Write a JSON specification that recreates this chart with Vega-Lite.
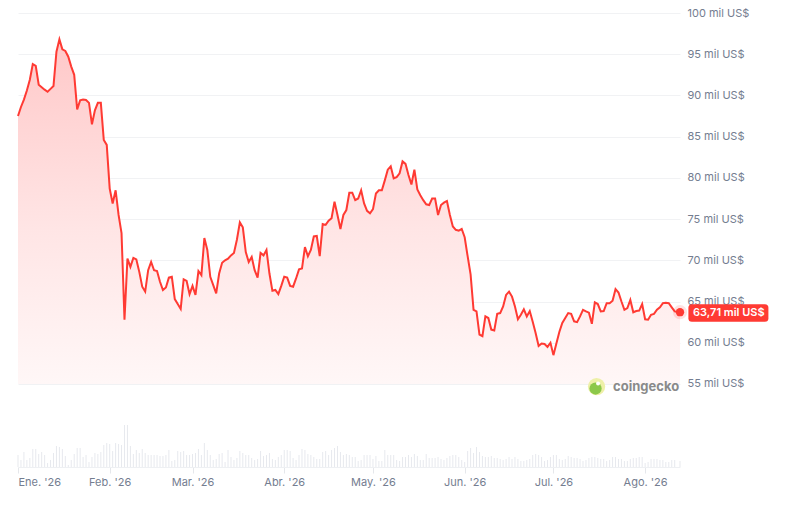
{
  "$schema": "https://vega.github.io/schema/vega-lite/v6.json",
  "width": 662,
  "height": 454,
  "autosize": {"type": "none"},
  "padding": {"left": 18, "top": 13, "right": 107, "bottom": 44},
  "background": "white",
  "config": {
    "view": {"stroke": null},
    "font": "Inter",
    "locale": {
      "time": {
        "dateTime": "%A, %e de %B de %Y, %X",
        "date": "%d/%m/%Y",
        "time": "%H:%M:%S",
        "periods": ["AM", "PM"],
        "days": ["domingo", "lunes", "martes", "miércoles", "jueves", "viernes", "sábado"],
        "shortDays": ["dom", "lun", "mar", "mié", "jue", "vie", "sáb"],
        "months": ["enero", "febrero", "marzo", "abril", "mayo", "junio", "julio", "agosto", "septiembre", "octubre", "noviembre", "diciembre"],
        "shortMonths": ["Ene", "Feb", "Mar", "Abr", "May", "Jun", "Jul", "Ago", "Sep", "Oct", "Nov", "Dic"]
      }
    }
  },
  "datasets": {
    "prices": [
      {"date": "2026-01-01", "price": 87.5, "volume": 12},
      {"date": "2026-01-02", "price": 88.6, "volume": 7},
      {"date": "2026-01-03", "price": 89.5, "volume": 15},
      {"date": "2026-01-04", "price": 90.6, "volume": 7},
      {"date": "2026-01-05", "price": 91.9, "volume": 9},
      {"date": "2026-01-06", "price": 93.8, "volume": 18},
      {"date": "2026-01-07", "price": 93.6, "volume": 18},
      {"date": "2026-01-08", "price": 91.3, "volume": 13},
      {"date": "2026-01-09", "price": 91.0, "volume": 15},
      {"date": "2026-01-10", "price": 90.7, "volume": 12},
      {"date": "2026-01-11", "price": 90.45, "volume": 4},
      {"date": "2026-01-12", "price": 90.8, "volume": 7},
      {"date": "2026-01-13", "price": 91.15, "volume": 14},
      {"date": "2026-01-14", "price": 95.3, "volume": 21},
      {"date": "2026-01-15", "price": 96.8, "volume": 20},
      {"date": "2026-01-16", "price": 95.6, "volume": 18},
      {"date": "2026-01-17", "price": 95.4, "volume": 11},
      {"date": "2026-01-18", "price": 94.7, "volume": 2},
      {"date": "2026-01-19", "price": 93.5, "volume": 7},
      {"date": "2026-01-20", "price": 92.5, "volume": 13},
      {"date": "2026-01-21", "price": 88.3, "volume": 19},
      {"date": "2026-01-22", "price": 89.4, "volume": 19},
      {"date": "2026-01-23", "price": 89.5, "volume": 10},
      {"date": "2026-01-24", "price": 89.45, "volume": 12},
      {"date": "2026-01-25", "price": 89.1, "volume": 5},
      {"date": "2026-01-26", "price": 86.5, "volume": 10},
      {"date": "2026-01-27", "price": 88.2, "volume": 14},
      {"date": "2026-01-28", "price": 89.1, "volume": 13},
      {"date": "2026-01-29", "price": 89.1, "volume": 15},
      {"date": "2026-01-30", "price": 84.6, "volume": 22},
      {"date": "2026-01-31", "price": 84.0, "volume": 24},
      {"date": "2026-02-01", "price": 78.7, "volume": 23},
      {"date": "2026-02-02", "price": 76.9, "volume": 16},
      {"date": "2026-02-03", "price": 78.5, "volume": 24},
      {"date": "2026-02-04", "price": 75.5, "volume": 23},
      {"date": "2026-02-05", "price": 73.3, "volume": 22},
      {"date": "2026-02-06", "price": 62.8, "volume": 42},
      {"date": "2026-02-07", "price": 70.2, "volume": 42},
      {"date": "2026-02-08", "price": 69.2, "volume": 21},
      {"date": "2026-02-09", "price": 70.3, "volume": 13},
      {"date": "2026-02-10", "price": 70.1, "volume": 17},
      {"date": "2026-02-11", "price": 68.6, "volume": 14},
      {"date": "2026-02-12", "price": 66.8, "volume": 18},
      {"date": "2026-02-13", "price": 66.2, "volume": 14},
      {"date": "2026-02-14", "price": 68.8, "volume": 12},
      {"date": "2026-02-15", "price": 69.8, "volume": 12},
      {"date": "2026-02-16", "price": 68.8, "volume": 12},
      {"date": "2026-02-17", "price": 68.7, "volume": 12},
      {"date": "2026-02-18", "price": 67.4, "volume": 11},
      {"date": "2026-02-19", "price": 66.4, "volume": 11},
      {"date": "2026-02-20", "price": 66.7, "volume": 12},
      {"date": "2026-02-21", "price": 67.9, "volume": 17},
      {"date": "2026-02-22", "price": 68.0, "volume": 6},
      {"date": "2026-02-23", "price": 65.3, "volume": 7},
      {"date": "2026-02-24", "price": 64.7, "volume": 16},
      {"date": "2026-02-25", "price": 64.1, "volume": 15},
      {"date": "2026-02-26", "price": 67.7, "volume": 16},
      {"date": "2026-02-27", "price": 67.5, "volume": 12},
      {"date": "2026-02-28", "price": 65.9, "volume": 12},
      {"date": "2026-03-01", "price": 66.9, "volume": 13},
      {"date": "2026-03-02", "price": 65.8, "volume": 14},
      {"date": "2026-03-03", "price": 68.7, "volume": 18},
      {"date": "2026-03-04", "price": 68.2, "volume": 12},
      {"date": "2026-03-05", "price": 72.7, "volume": 24},
      {"date": "2026-03-06", "price": 71.25, "volume": 17},
      {"date": "2026-03-07", "price": 68.0, "volume": 12},
      {"date": "2026-03-08", "price": 67.0, "volume": 7},
      {"date": "2026-03-09", "price": 66.0, "volume": 8},
      {"date": "2026-03-10", "price": 68.4, "volume": 13},
      {"date": "2026-03-11", "price": 69.7, "volume": 14},
      {"date": "2026-03-12", "price": 70.0, "volume": 5},
      {"date": "2026-03-13", "price": 70.2, "volume": 17},
      {"date": "2026-03-14", "price": 70.6, "volume": 10},
      {"date": "2026-03-15", "price": 70.9, "volume": 7},
      {"date": "2026-03-16", "price": 72.5, "volume": 9},
      {"date": "2026-03-17", "price": 74.6, "volume": 16},
      {"date": "2026-03-18", "price": 74.0, "volume": 14},
      {"date": "2026-03-19", "price": 71.0, "volume": 12},
      {"date": "2026-03-20", "price": 69.8, "volume": 12},
      {"date": "2026-03-21", "price": 70.4, "volume": 9},
      {"date": "2026-03-22", "price": 68.8, "volume": 7},
      {"date": "2026-03-23", "price": 67.9, "volume": 8},
      {"date": "2026-03-24", "price": 70.9, "volume": 16},
      {"date": "2026-03-25", "price": 70.6, "volume": 11},
      {"date": "2026-03-26", "price": 71.25, "volume": 12},
      {"date": "2026-03-27", "price": 68.4, "volume": 14},
      {"date": "2026-03-28", "price": 66.3, "volume": 8},
      {"date": "2026-03-29", "price": 66.4, "volume": 7},
      {"date": "2026-03-30", "price": 65.9, "volume": 10},
      {"date": "2026-03-31", "price": 66.9, "volume": 12},
      {"date": "2026-04-01", "price": 68.0, "volume": 17},
      {"date": "2026-04-02", "price": 67.9, "volume": 17},
      {"date": "2026-04-03", "price": 66.9, "volume": 16},
      {"date": "2026-04-04", "price": 66.8, "volume": 9},
      {"date": "2026-04-05", "price": 67.8, "volume": 7},
      {"date": "2026-04-06", "price": 68.9, "volume": 12},
      {"date": "2026-04-07", "price": 69.0, "volume": 18},
      {"date": "2026-04-08", "price": 71.6, "volume": 17},
      {"date": "2026-04-09", "price": 70.5, "volume": 13},
      {"date": "2026-04-10", "price": 71.25, "volume": 12},
      {"date": "2026-04-11", "price": 72.9, "volume": 10},
      {"date": "2026-04-12", "price": 72.95, "volume": 8},
      {"date": "2026-04-13", "price": 70.5, "volume": 8},
      {"date": "2026-04-14", "price": 74.4, "volume": 15},
      {"date": "2026-04-15", "price": 74.3, "volume": 16},
      {"date": "2026-04-16", "price": 74.8, "volume": 12},
      {"date": "2026-04-17", "price": 75.1, "volume": 17},
      {"date": "2026-04-18", "price": 77.1, "volume": 19},
      {"date": "2026-04-19", "price": 75.5, "volume": 21},
      {"date": "2026-04-20", "price": 73.8, "volume": 15},
      {"date": "2026-04-21", "price": 75.5, "volume": 12},
      {"date": "2026-04-22", "price": 76.1, "volume": 13},
      {"date": "2026-04-23", "price": 78.2, "volume": 12},
      {"date": "2026-04-24", "price": 78.2, "volume": 10},
      {"date": "2026-04-25", "price": 77.3, "volume": 10},
      {"date": "2026-04-26", "price": 77.5, "volume": 6},
      {"date": "2026-04-27", "price": 78.5, "volume": 7},
      {"date": "2026-04-28", "price": 76.9, "volume": 12},
      {"date": "2026-04-29", "price": 76.0, "volume": 12},
      {"date": "2026-04-30", "price": 75.7, "volume": 12},
      {"date": "2026-05-01", "price": 76.2, "volume": 8},
      {"date": "2026-05-02", "price": 78.1, "volume": 11},
      {"date": "2026-05-03", "price": 78.5, "volume": 6},
      {"date": "2026-05-04", "price": 78.5, "volume": 6},
      {"date": "2026-05-05", "price": 79.7, "volume": 17},
      {"date": "2026-05-06", "price": 81.0, "volume": 12},
      {"date": "2026-05-07", "price": 81.4, "volume": 12},
      {"date": "2026-05-08", "price": 79.95, "volume": 12},
      {"date": "2026-05-09", "price": 80.1, "volume": 7},
      {"date": "2026-05-10", "price": 80.55, "volume": 6},
      {"date": "2026-05-11", "price": 82.0, "volume": 10},
      {"date": "2026-05-12", "price": 81.7, "volume": 10},
      {"date": "2026-05-13", "price": 80.35, "volume": 12},
      {"date": "2026-05-14", "price": 79.2, "volume": 10},
      {"date": "2026-05-15", "price": 81.0, "volume": 13},
      {"date": "2026-05-16", "price": 78.6, "volume": 11},
      {"date": "2026-05-17", "price": 77.9, "volume": 7},
      {"date": "2026-05-18", "price": 77.3, "volume": 7},
      {"date": "2026-05-19", "price": 76.8, "volume": 13},
      {"date": "2026-05-20", "price": 76.7, "volume": 9},
      {"date": "2026-05-21", "price": 77.5, "volume": 9},
      {"date": "2026-05-22", "price": 77.5, "volume": 9},
      {"date": "2026-05-23", "price": 75.5, "volume": 10},
      {"date": "2026-05-24", "price": 76.7, "volume": 8},
      {"date": "2026-05-25", "price": 77.0, "volume": 7},
      {"date": "2026-05-26", "price": 77.2, "volume": 9},
      {"date": "2026-05-27", "price": 75.5, "volume": 11},
      {"date": "2026-05-28", "price": 74.1, "volume": 12},
      {"date": "2026-05-29", "price": 73.7, "volume": 12},
      {"date": "2026-05-30", "price": 73.6, "volume": 10},
      {"date": "2026-05-31", "price": 73.8, "volume": 7},
      {"date": "2026-06-01", "price": 72.8, "volume": 5},
      {"date": "2026-06-02", "price": 70.5, "volume": 16},
      {"date": "2026-06-03", "price": 68.3, "volume": 19},
      {"date": "2026-06-04", "price": 64.0, "volume": 14},
      {"date": "2026-06-05", "price": 63.8, "volume": 20},
      {"date": "2026-06-06", "price": 61.0, "volume": 15},
      {"date": "2026-06-07", "price": 60.8, "volume": 11},
      {"date": "2026-06-08", "price": 63.2, "volume": 10},
      {"date": "2026-06-09", "price": 63.0, "volume": 10},
      {"date": "2026-06-10", "price": 61.6, "volume": 11},
      {"date": "2026-06-11", "price": 61.5, "volume": 9},
      {"date": "2026-06-12", "price": 63.5, "volume": 9},
      {"date": "2026-06-13", "price": 63.6, "volume": 8},
      {"date": "2026-06-14", "price": 64.4, "volume": 7},
      {"date": "2026-06-15", "price": 65.8, "volume": 8},
      {"date": "2026-06-16", "price": 66.2, "volume": 10},
      {"date": "2026-06-17", "price": 65.6, "volume": 8},
      {"date": "2026-06-18", "price": 64.4, "volume": 10},
      {"date": "2026-06-19", "price": 62.85, "volume": 8},
      {"date": "2026-06-20", "price": 63.4, "volume": 6},
      {"date": "2026-06-21", "price": 64.05, "volume": 6},
      {"date": "2026-06-22", "price": 63.2, "volume": 7},
      {"date": "2026-06-23", "price": 63.85, "volume": 8},
      {"date": "2026-06-24", "price": 62.55, "volume": 12},
      {"date": "2026-06-25", "price": 61.15, "volume": 13},
      {"date": "2026-06-26", "price": 59.6, "volume": 12},
      {"date": "2026-06-27", "price": 59.9, "volume": 10},
      {"date": "2026-06-28", "price": 59.85, "volume": 6},
      {"date": "2026-06-29", "price": 59.5, "volume": 7},
      {"date": "2026-06-30", "price": 60.0, "volume": 10},
      {"date": "2026-07-01", "price": 58.5, "volume": 12},
      {"date": "2026-07-02", "price": 59.9, "volume": 12},
      {"date": "2026-07-03", "price": 61.3, "volume": 8},
      {"date": "2026-07-04", "price": 62.4, "volume": 7},
      {"date": "2026-07-05", "price": 63.0, "volume": 8},
      {"date": "2026-07-06", "price": 63.6, "volume": 11},
      {"date": "2026-07-07", "price": 63.5, "volume": 10},
      {"date": "2026-07-08", "price": 62.6, "volume": 9},
      {"date": "2026-07-09", "price": 62.5, "volume": 9},
      {"date": "2026-07-10", "price": 63.2, "volume": 8},
      {"date": "2026-07-11", "price": 64.0, "volume": 6},
      {"date": "2026-07-12", "price": 63.8, "volume": 7},
      {"date": "2026-07-13", "price": 63.65, "volume": 9},
      {"date": "2026-07-14", "price": 62.3, "volume": 10},
      {"date": "2026-07-15", "price": 64.9, "volume": 10},
      {"date": "2026-07-16", "price": 64.7, "volume": 9},
      {"date": "2026-07-17", "price": 63.8, "volume": 8},
      {"date": "2026-07-18", "price": 63.85, "volume": 8},
      {"date": "2026-07-19", "price": 64.8, "volume": 6},
      {"date": "2026-07-20", "price": 64.8, "volume": 7},
      {"date": "2026-07-21", "price": 65.1, "volume": 10},
      {"date": "2026-07-22", "price": 66.5, "volume": 10},
      {"date": "2026-07-23", "price": 66.1, "volume": 8},
      {"date": "2026-07-24", "price": 65.0, "volume": 8},
      {"date": "2026-07-25", "price": 64.0, "volume": 6},
      {"date": "2026-07-26", "price": 64.2, "volume": 6},
      {"date": "2026-07-27", "price": 65.2, "volume": 8},
      {"date": "2026-07-28", "price": 63.7, "volume": 9},
      {"date": "2026-07-29", "price": 63.85, "volume": 9},
      {"date": "2026-07-30", "price": 63.9, "volume": 10},
      {"date": "2026-07-31", "price": 64.7, "volume": 10},
      {"date": "2026-08-01", "price": 62.85, "volume": 4},
      {"date": "2026-08-02", "price": 62.8, "volume": 5},
      {"date": "2026-08-03", "price": 63.4, "volume": 8},
      {"date": "2026-08-04", "price": 63.5, "volume": 8},
      {"date": "2026-08-05", "price": 64.0, "volume": 8},
      {"date": "2026-08-06", "price": 64.3, "volume": 7},
      {"date": "2026-08-07", "price": 64.8, "volume": 7},
      {"date": "2026-08-08", "price": 64.85, "volume": 5},
      {"date": "2026-08-09", "price": 64.8, "volume": 5},
      {"date": "2026-08-10", "price": 64.3, "volume": 7},
      {"date": "2026-08-11", "price": 63.8, "volume": 7},
      {"date": "2026-08-12T19:00:00Z", "price": 63.71, "volume": 6}
    ],
    "last": [
      {"date": "2026-08-12T19:00:00Z", "price": 63.71, "label": "63,71 mil US$"}
    ],
    "brand": [
      {"date": "2026-07-15T14:00:00Z", "textDate": "2026-07-21T04:00:00Z", "price": 54.69, "label": "coingecko"}
    ]
  },
  "data": {"name": "prices"},
  "layer": [
    {
      "mark": {"type": "bar", "width": 1, "color": "#e7e9ee"},
      "encoding": {
        "x": {
          "field": "date",
          "type": "temporal",
          "scale": {
            "type": "utc",
            "nice": false,
            "padding": 0,
            "domain": [1767225600000, 1786561200000]
          },
          "axis": {
            "title": null,
            "grid": false,
            "values": [1767225600000, 1769904000000, 1772323200000, 1775001600000, 1777593600000, 1780272000000, 1782864000000, 1785542400000],
            "labelExpr": "utcFormat(datum.value, '%b') + \". '26\"",
            "labelFlush": true,
            "labelFont": "Inter",
            "labelFontSize": 11,
            "labelColor": "#747d90",
            "labelPadding": 3,
            "domainColor": "#eef0f3",
            "tickColor": "#e5e7eb",
            "tickSize": 6
          }
        },
        "y": {
          "field": "volume",
          "type": "quantitative",
          "scale": {"domain": [0, 454], "nice": false},
          "axis": null
        }
      }
    },
    {
      "encoding": {
        "x": {
          "field": "date",
          "type": "temporal",
          "axis": {
            "title": null,
            "grid": false,
            "values": [1767225600000, 1769904000000, 1772323200000, 1775001600000, 1777593600000, 1780272000000, 1782864000000, 1785542400000],
            "labelExpr": "utcFormat(datum.value, '%b') + \". '26\"",
            "labelFlush": true,
            "labelFont": "Inter",
            "labelFontSize": 11,
            "labelColor": "#747d90",
            "labelPadding": 3,
            "domainColor": "#eef0f3",
            "tickColor": "#e5e7eb",
            "tickSize": 6
          }
        },
        "y": {
          "field": "price",
          "type": "quantitative",
          "scale": {"domain": [44.93, 100], "nice": false, "zero": false},
          "axis": {
            "orient": "right",
            "title": null,
            "values": [55, 60, 65, 70, 75, 80, 85, 90, 95, 100],
            "labelExpr": "datum.value + ' mil US$'",
            "grid": true,
            "gridColor": "#f1f2f4",
            "domain": false,
            "ticks": false,
            "labelFont": "Inter",
            "labelFontSize": 11,
            "labelColor": "#747d90",
            "labelPadding": 7
          }
        }
      },
      "layer": [
        {
          "mark": {
            "type": "area",
            "color": {
              "gradient": "linear",
              "x1": 0, "y1": 0, "x2": 0, "y2": 1,
              "stops": [
                {"offset": 0, "color": "#ffc8c8"},
                {"offset": 0.55, "color": "#ffe5e5"},
                {"offset": 1, "color": "#fff7f7"}
              ]
            }
          },
          "encoding": {"y2": {"datum": 55}}
        },
        {
          "mark": {"type": "line", "color": "#ff3a33", "strokeWidth": 2}
        },
        {
          "data": {"name": "last"},
          "mark": {
            "type": "point",
            "shape": "M0.2975,-0.2H2.1225Q2.21,-0.2 2.21,-0.1125V0.1525Q2.21,0.24 2.1225,0.24H0.2975Q0.21,0.24 0.21,0.1525V-0.1125Q0.21,-0.2 0.2975,-0.2Z",
            "filled": true,
            "color": "#ff3a33",
            "opacity": 1,
            "strokeWidth": 0,
            "size": 6400
          }
        },
        {
          "data": {"name": "last"},
          "mark": {"type": "circle", "color": "#ff3a33", "opacity": 0.15, "size": 200}
        },
        {
          "data": {"name": "last"},
          "mark": {"type": "circle", "color": "#ff3a33", "opacity": 1, "size": 70}
        },
        {
          "data": {"name": "last"},
          "mark": {
            "type": "text",
            "color": "white",
            "align": "left",
            "baseline": "middle",
            "dx": 13,
            "dy": 1,
            "font": "Inter",
            "fontSize": 11,
            "fontWeight": 600
          },
          "encoding": {"text": {"field": "label"}}
        },
        {
          "data": {"name": "brand"},
          "mark": {"type": "circle", "color": "#eef0a8", "opacity": 1, "size": 300}
        },
        {
          "data": {"name": "brand"},
          "mark": {"type": "circle", "color": "#8cc84a", "opacity": 1, "size": 150, "xOffset": -1, "yOffset": 2}
        },
        {
          "data": {"name": "brand"},
          "mark": {"type": "circle", "color": "#ffffff", "opacity": 1, "size": 16, "xOffset": 1.5, "yOffset": -3}
        },
        {
          "data": {"name": "brand"},
          "mark": {
            "type": "text",
            "align": "left",
            "baseline": "middle",
            "font": "Inter",
            "fontSize": 13,
            "fontWeight": 700,
            "color": "#8a8a8a"
          },
          "encoding": {
            "x": {
              "field": "textDate",
              "type": "temporal",
              "axis": {
                "title": null,
                "grid": false,
                "values": [1767225600000, 1769904000000, 1772323200000, 1775001600000, 1777593600000, 1780272000000, 1782864000000, 1785542400000],
                "labelExpr": "utcFormat(datum.value, '%b') + \". '26\"",
                "labelFlush": true,
                "labelFont": "Inter",
                "labelFontSize": 11,
                "labelColor": "#747d90",
                "labelPadding": 3,
                "domainColor": "#eef0f3",
                "tickColor": "#e5e7eb",
                "tickSize": 6
              }
            },
            "text": {"field": "label"}
          }
        }
      ]
    }
  ],
  "resolve": {"scale": {"y": "independent"}, "axis": {"y": "independent"}}
}
